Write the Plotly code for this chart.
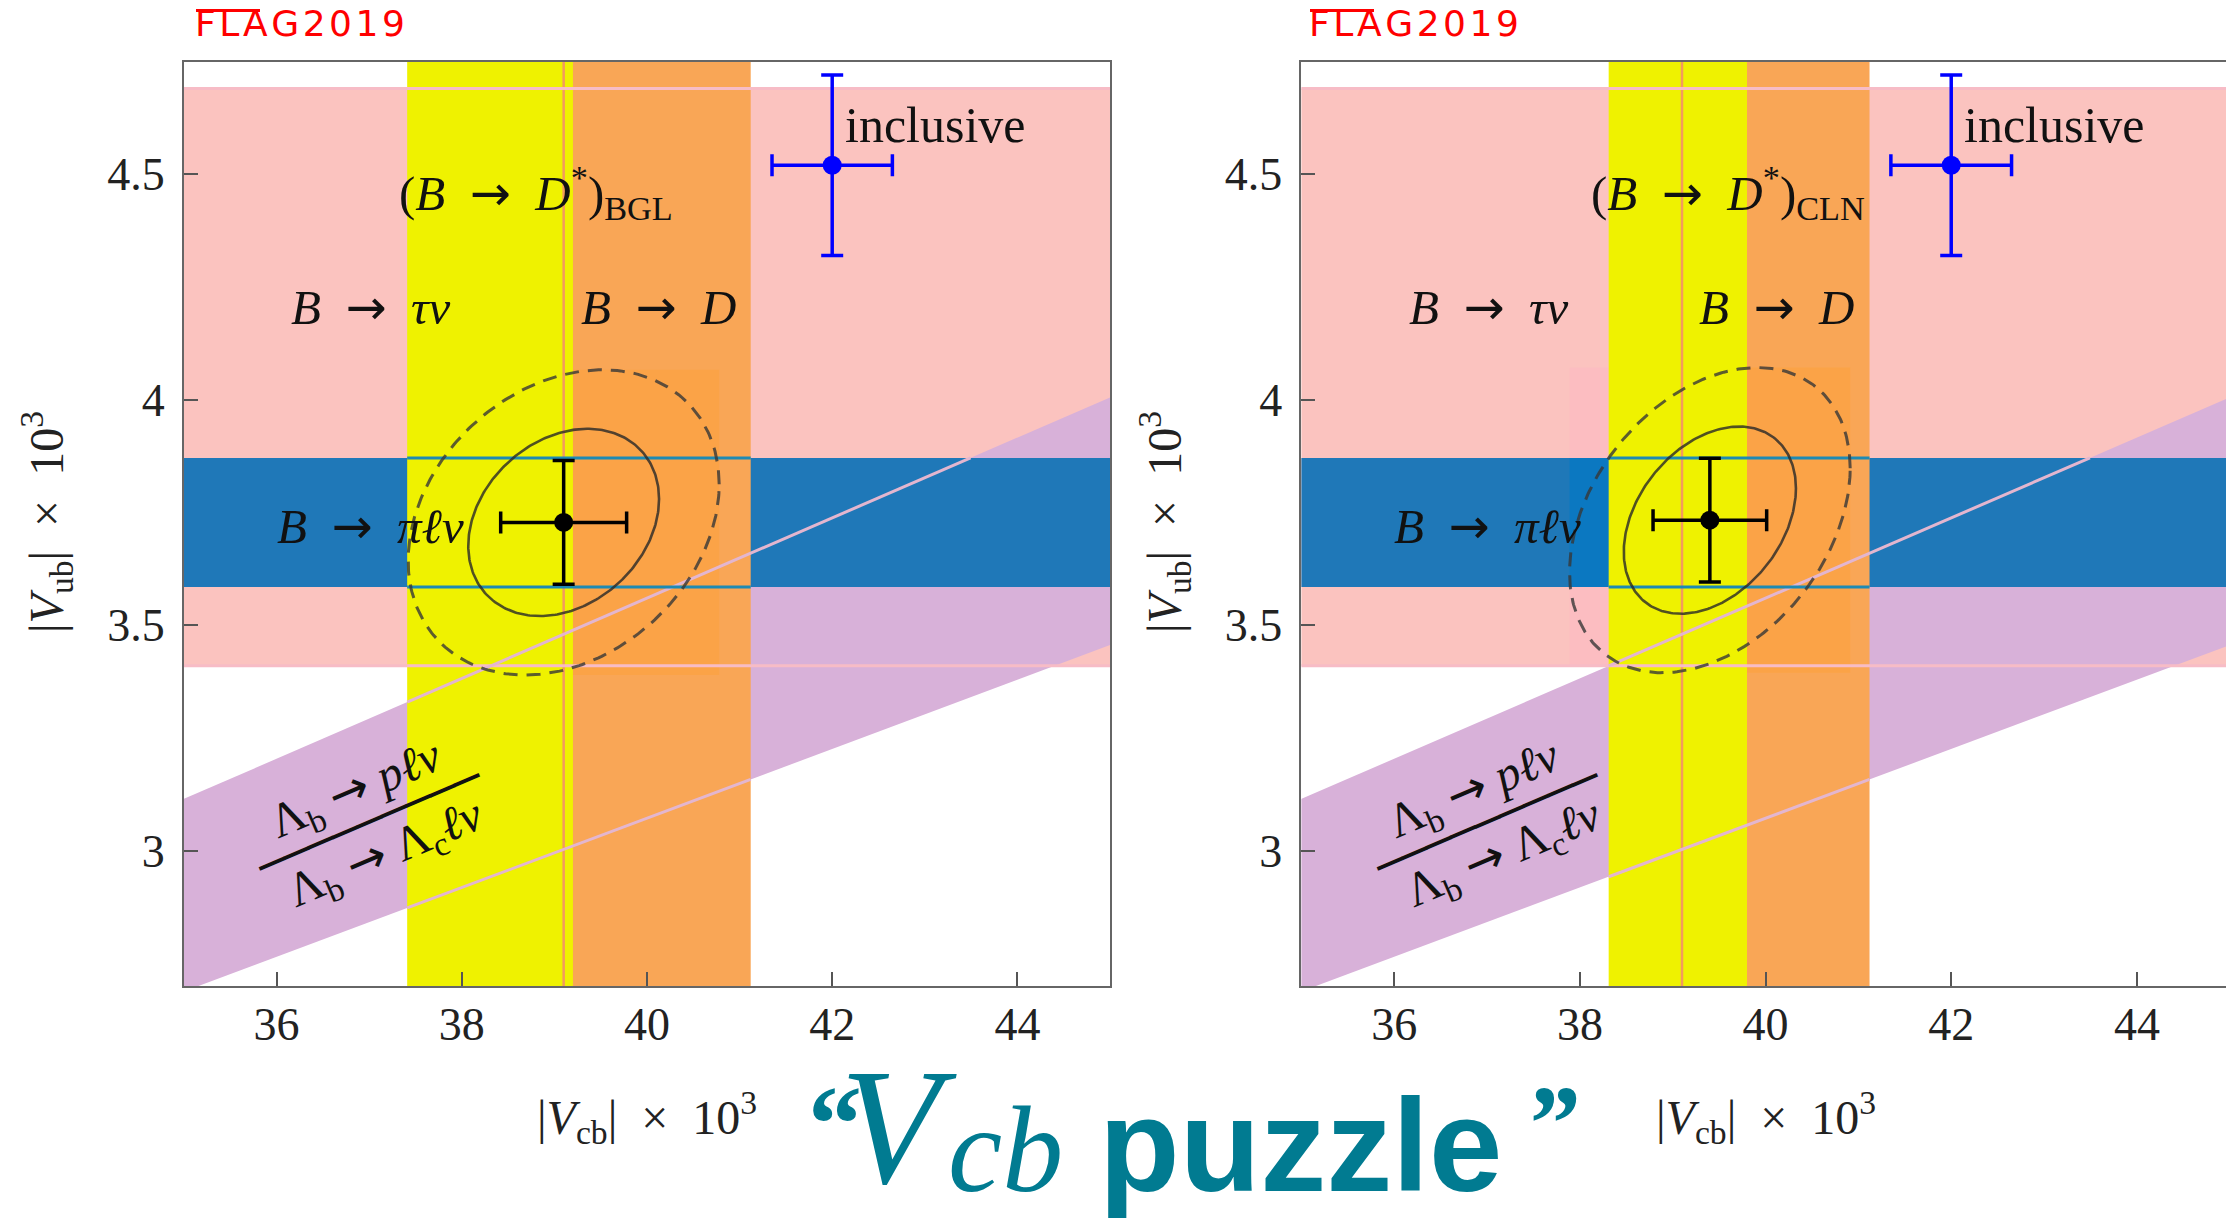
import numpy as np
import plotly.graph_objects as go

W, H = 2226, 1227

# ---------------- data (|V| x 10^3) ----------------
panel_names = ["BGL", "CLN"]
vcb_axis_range = [[35.0, 45.0], [35.0, 44.96]]
vub_axis_range = [2.70, 4.75]
vcb_tickvals = [36, 38, 40, 42, 44]
vcb_ticktext = ["36", "38", "40", "42", "44"]
vub_tickvals = [3.0, 3.5, 4.0, 4.5]
vub_ticktext = ["3", "3.5", "4", "4.5"]

bdstar_vcb_lo = [37.41, 38.31]        # (B -> D*)_BGL , (B -> D*)_CLN
bdstar_vcb_hi = [39.20, 39.80]
bd_vcb = [39.10, 41.12]               # B -> D
taunu_vub = [3.41, 4.69]              # B -> tau nu
pilnu_vub = [3.585, 3.871]            # B -> pi l nu
lambda_ratio = [0.0768, 0.0890]       # Lambda_b -> p l nu / Lambda_b -> Lambda_c l nu  (|Vub/Vcb|)
incl_vcb, incl_vub = 42.00, 4.52
incl_err_vcb, incl_err_vub = 0.65, 0.20
fit_vcb = [39.10, 39.40]
fit_vub = [3.728, 3.733]
fit_sig_vcb = [0.68, 0.612]
fit_sig_vub = [0.137, 0.137]
fit_rho = [0.25, 0.34]
contour_scale = [1.515, 2.47]         # solid / dashed contour

# ---------------- styles ----------------
PINK = "#fbc3bf"
PINK2 = "#fcbdc1"
PURPLE = "#d8b1d9"
BLUE = "#1f78b8"
BLUE2 = "#0b78c1"
ORANGE = "#f9a656"
ORANGE2 = "#fba347"
YELLOW = "#eff200"
PINK_EDGE = "#f7bcc6"
PURPLE_EDGE = "#e3b6cf"
BLUE_EDGE = "#1d8ab4"
ORANGE_EDGE = "#f39a5e"
SERIF = "Liberation Serif"
TEAL = "#017b91"
ARROW = '<span style="font-family:DejaVu Sans">→</span>'

fig = go.Figure()


def px2paper(px, py):
    return px / W, 1 - py / H


plot_top, plot_bot = 61.5, 986.0
panel_px = [(184.0, 1110.0), (1301.4, 2226.0)]


def add_panel(i):
    xa = "x" if i == 0 else "x2"
    ya = "y" if i == 0 else "y2"
    xr = vcb_axis_range[i]
    x0, x1 = xr[0] - 1, xr[1] + 1
    y0, y1 = vub_axis_range[0] - 0.2, vub_axis_range[1] + 0.2

    def poly(xs, ys, color):
        fig.add_trace(go.Scatter(x=xs, y=ys, fill="toself", fillcolor=color, mode="lines",
                                 line=dict(width=0), hoverinfo="skip", showlegend=False,
                                 xaxis=xa, yaxis=ya))

    def rect(xl, xh, yl, yh, color):
        poly([xl, xh, xh, xl, xl], [yl, yl, yh, yh, yl], color)

    def line(xs, ys, color, width, dash="solid"):
        fig.add_trace(go.Scatter(x=xs, y=ys, mode="lines", line=dict(color=color, width=width, dash=dash),
                                 hoverinfo="skip", showlegend=False, xaxis=xa, yaxis=ya))

    # bounding box of the outer fit contour (rendered slightly more saturated)
    kd = contour_scale[1]
    bx0, bx1 = fit_vcb[i] - kd * fit_sig_vcb[i], fit_vcb[i] + kd * fit_sig_vcb[i]
    by0, by1 = fit_vub[i] - kd * fit_sig_vub[i], fit_vub[i] + kd * fit_sig_vub[i]

    lo, hi = lambda_ratio
    rect(x0, x1, taunu_vub[0], taunu_vub[1], PINK)
    rect(bx0, bx1, max(by0, taunu_vub[0]), min(by1, taunu_vub[1]), PINK2)
    poly([x0, x1, x1, x0, x0], [lo * x0, lo * x1, hi * x1, hi * x0, lo * x0], PURPLE)
    rect(x0, x1, pilnu_vub[0], pilnu_vub[1], BLUE)
    rect(bx0, bx1, pilnu_vub[0], pilnu_vub[1], BLUE2)
    rect(bd_vcb[0], bd_vcb[1], y0, y1, ORANGE)
    rect(max(bx0, bd_vcb[0]), min(bx1, bd_vcb[1]), by0, by1, ORANGE2)
    rect(bdstar_vcb_lo[i], bdstar_vcb_hi[i], y0, y1, YELLOW)

    # band edges
    line([bd_vcb[0], bd_vcb[0]], [y0, y1], ORANGE_EDGE, 2.5)
    for yv in taunu_vub:
        line([x0, x1], [yv, yv], PINK_EDGE, 3)
    xs = bdstar_vcb_lo[i]
    xe = pilnu_vub[1] / hi
    line([xs, xe], [hi * xs, hi * xe], PURPLE_EDGE, 3)
    line([xs, bd_vcb[1]], [lo * xs, lo * bd_vcb[1]], PURPLE_EDGE, 3)
    for yv in pilnu_vub:
        line([xs, bd_vcb[1]], [yv, yv], BLUE_EDGE, 3)

    # fit contours
    t = np.linspace(0, 2 * np.pi, 300)
    r = fit_rho[i]
    for k, dash, col in zip(contour_scale, ["solid", "14px,9px"], ["rgba(40,40,40,0.8)", "rgba(55,55,55,0.8)"]):
        ex = fit_vcb[i] + k * fit_sig_vcb[i] * np.cos(t)
        ey = fit_vub[i] + k * fit_sig_vub[i] * (r * np.cos(t) + np.sqrt(1 - r * r) * np.sin(t))
        line(ex, ey, col, 2.6 if dash == "solid" else 3, dash)

    # fit point
    fig.add_trace(go.Scatter(
        x=[fit_vcb[i]], y=[fit_vub[i]], mode="markers",
        marker=dict(size=19, color="black"),
        error_x=dict(type="data", array=[fit_sig_vcb[i]], color="black", thickness=3.5, width=11),
        error_y=dict(type="data", array=[fit_sig_vub[i]], color="black", thickness=3.5, width=11),
        hoverinfo="skip", showlegend=False, xaxis=xa, yaxis=ya))
    # inclusive
    fig.add_trace(go.Scatter(
        x=[incl_vcb], y=[incl_vub], mode="markers",
        marker=dict(size=19, color="#0000ff"),
        error_x=dict(type="data", array=[incl_err_vcb], color="#0000ff", thickness=3.5, width=11),
        error_y=dict(type="data", array=[incl_err_vub], color="#0000ff", thickness=3.5, width=11),
        hoverinfo="skip", showlegend=False, xaxis=xa, yaxis=ya))

    # labels
    sp = "\u2002"
    lab = dict(font=dict(family=SERIF, size=49, color="#111"), showarrow=False,
               xref=xa, yref=ya, xanchor="center", yanchor="middle")
    dstar_x = [38.80, 39.60][i]
    fig.add_annotation(x=dstar_x, y=4.46,
                       text=f"(<i>B</i>{sp}{ARROW}{sp}<i>D</i><sup>*</sup>)<sub>{panel_names[i]}</sub>", **lab)
    fig.add_annotation(x=37.02, y=4.205, text=f"<i>B</i>{sp}{ARROW}{sp}<i>τν</i>", **lab)
    fig.add_annotation(x=40.12, y=4.205, text=f"<i>B</i>{sp}{ARROW}{sp}<i>D</i>", **lab)
    fig.add_annotation(x=37.01, y=3.72, text=f"<i>B</i>{sp}{ARROW}{sp}<i>πℓν</i>", **lab)
    fig.add_annotation(x=42.12, y=4.609, text="inclusive",
                       font=dict(family=SERIF, size=50, color="#111"), showarrow=False,
                       xref=xa, yref=ya, xanchor="left", yanchor="middle")
    ang = -23.2
    fr = dict(showarrow=False, xref=xa, yref=ya, xanchor="center", yanchor="middle", textangle=ang)
    fig.add_annotation(x=36.86, y=3.135, text=f"Λ<sub>b</sub> {ARROW} <i>pℓν</i>",
                       font=dict(family=SERIF, size=48, color="#111"), **fr)
    fig.add_annotation(x=37.00, y=3.065, text="─" * 9,
                       font=dict(family="DejaVu Sans Mono", size=44, color="#111"), **fr)
    fig.add_annotation(x=37.18, y=2.992, text=f"Λ<sub>b</sub> {ARROW} Λ<sub>c</sub><i>ℓν</i>",
                       font=dict(family=SERIF, size=48, color="#111"), **fr)

    # axis titles
    pl, pr = panel_px[i]
    cx, cy = px2paper((pl + [1110.0, 2230.0][i]) / 2, 1117)
    fig.add_annotation(x=cx, y=cy, xref="paper", yref="paper", showarrow=False,
                       text=f"|<i>V</i><sub>cb</sub>|{sp}×{sp}10<sup>3</sup>",
                       font=dict(family=SERIF, size=48, color="#222"), xanchor="center", yanchor="middle")
    tx, ty = px2paper([46, 1164][i], 522)
    fig.add_annotation(x=tx, y=ty, xref="paper", yref="paper", showarrow=False, textangle=-90,
                       text=f"|<i>V</i><sub>ub</sub>|{sp}×{sp}10<sup>3</sup>",
                       font=dict(family=SERIF, size=48, color="#222"), xanchor="center", yanchor="middle")
    # FLAG logo
    hs = "\u200a"
    fx, fy = px2paper([193, 1307][i], 24)
    fig.add_annotation(x=fx, y=fy, xref="paper", yref="paper", showarrow=False,
                       text=hs.join("FLAG2019"),
                       font=dict(family="DejaVu Sans", size=36, color="#ff0000"),
                       xanchor="left", yanchor="middle")
    ox0, oy = px2paper([196, 1310][i], 10.5)
    ox1, _ = px2paper([260, 1374][i], 10.5)
    fig.add_shape(type="line", xref="paper", yref="paper", x0=ox0, x1=ox1, y0=oy, y1=oy,
                  line=dict(color="#ff0000", width=3))


for i in range(2):
    add_panel(i)

# ---------------- axes ----------------
ydom = [1 - plot_bot / H, 1 - plot_top / H]
common_ax = dict(showgrid=False, zeroline=False, showline=True, linecolor="#666", linewidth=2,
                 ticks="inside", ticklen=14, tickwidth=2, tickcolor="#555",
                 tickfont=dict(family=SERIF, size=46, color="#222"))
layout_axes = {}
for i in range(2):
    pl, pr = panel_px[i]
    sx = "" if i == 0 else "2"
    layout_axes[f"xaxis{sx}"] = dict(common_ax, domain=[pl / W, pr / W], range=vcb_axis_range[i],
                                     tickvals=vcb_tickvals, ticktext=vcb_ticktext,
                                     anchor=f"y{sx}", mirror=True, ticklabelstandoff=-3)
    layout_axes[f"yaxis{sx}"] = dict(common_ax, domain=ydom, range=vub_axis_range,
                                     tickvals=vub_tickvals, ticktext=vub_ticktext,
                                     anchor=f"x{sx}", mirror=(i == 0), ticklabelstandoff=8)

fig.update_layout(width=W, height=H, margin=dict(l=0, r=0, t=0, b=0),
                  paper_bgcolor="white", plot_bgcolor="white", showlegend=False, **layout_axes)

# ---------------- bottom title ----------------
def top_ann(text, px, py, size, family):
    x, y = px2paper(px, py)
    fig.add_annotation(x=x, y=y, xref="paper", yref="paper", showarrow=False, text=text,
                       font=dict(family=family, size=size, color=TEAL), xanchor="left", yanchor="top")

top_ann("<b>“</b>", 806, 1062, 108, SERIF)
top_ann("<i>V</i>", 838, 1034, 165, SERIF)
top_ann("<i>cb</i>", 946, 1080, 122, SERIF)
top_ann("<b>puzzle</b>", 1097, 1070, 132, "Liberation Sans")
top_ann("<b><i>”</i></b>", 1522, 1062, 108, SERIF)

fig.write_html("out.html", config={"displayModeBar": False},
               post_script="document.body.style.margin='0px';")
